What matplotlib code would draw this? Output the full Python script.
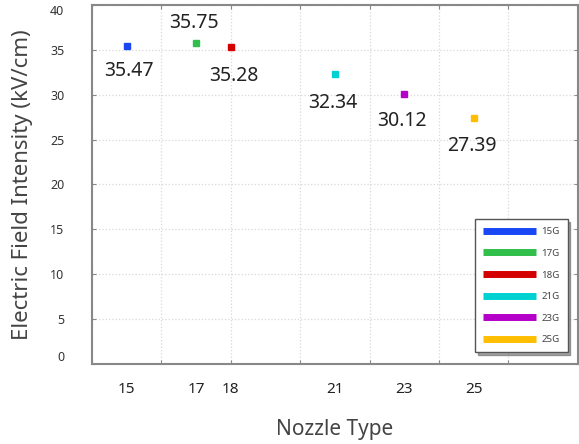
import matplotlib.pyplot as plt
from matplotlib.lines import Line2D

# data
gauges = [15, 17, 18, 21, 23, 25]
intensity = [35.47, 35.75, 35.28, 32.34, 30.12, 27.39]
names = ['15G', '17G', '18G', '21G', '23G', '25G']
colors = ['#1a47f5', '#2fbf4a', '#d40000', '#00d2d2', '#b400c8', '#ffbf00']

plt.rcParams['font.family'] = ['Noto Sans', 'DejaVu Sans']

fig = plt.figure(figsize=(5.79, 4.44), dpi=100)
ax = fig.add_axes([0.159, 0.180, 0.839, 0.809])

for g, v, c in zip(gauges, intensity, colors):
    ax.plot(g, v, 's', color=c, markersize=5)

# value labels (offset in points, above / below)
offsets = [(1.5, -18), (-1.5, 14.5), (2, -21), (-1.5, -21), (-2, -20), (-1, -20)]
for g, v, (dx, dy) in zip(gauges, intensity, offsets):
    ax.annotate(f'{v:.2f}', (g, v), xytext=(dx, dy), textcoords='offset points',
                ha='center', va='center', fontsize=14, fontweight='semibold',
                color='#222222')

ax.set_xlim(14, 28)
ax.set_ylim(0, 40)
ax.xaxis.remove_overlapping_locs = False
ax.set_xticks(range(14, 29, 2))
ax.set_xticklabels([])
ax.set_xticks(gauges, minor=True)
ax.set_xticklabels([str(g) for g in gauges], minor=True, fontsize=11,
                   fontweight='bold', color='#222222')
ax.tick_params(axis='x', which='minor', length=0, pad=13)
ax.set_yticks(range(0, 41, 5))
ax.set_yticklabels([str(t) for t in range(0, 41, 5)], fontsize=9, color='#333333')
ax.tick_params(which='major', direction='in', length=3, color='#888888',
               top=True, right=True, pad=20)
yl = ax.get_yticklabels()
yl[0].set_va('bottom')
yl[-1].set_va('top')

ax.grid(True, which='major', linestyle=':', color='#d8d8d8', linewidth=0.9)
for s in ax.spines.values():
    s.set_color('#888888')
    s.set_linewidth(1.5)

ax.set_ylabel('Electric Field Intensity (kV/cm)', fontsize=16, color='#444444', labelpad=12)
ax.set_xlabel('Nozzle Type', fontsize=15, color='#444444', labelpad=16)

handles = [Line2D([0], [0], color=c, linewidth=5, solid_capstyle='butt') for c in colors]
leg = ax.legend(handles, names, loc='lower right', bbox_to_anchor=(0.979, 0.033),
                borderaxespad=0, fontsize=7, handlelength=5.4, handletextpad=0.6,
                labelspacing=1.3, fancybox=False, shadow=True, framealpha=1,
                borderpad=0.8)
leg.get_frame().set_edgecolor('#555555')
for t in leg.get_texts():
    t.set_color('#444444')

fig.savefig('out.png', dpi=100)
